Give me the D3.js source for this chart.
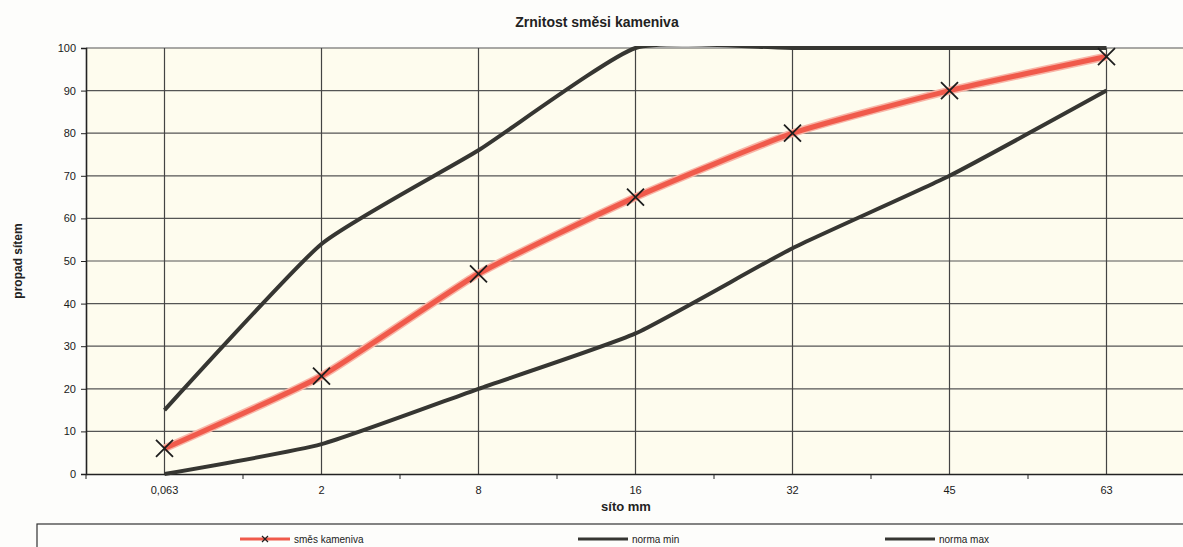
<!DOCTYPE html>
<html>
<head>
<meta charset="utf-8">
<script src="https://cdn.jsdelivr.net/npm/d3@7"></script>
<style>
  body { margin: 0; background: #fdfdfb; }
  svg { display: block; font-family: "Liberation Sans", Arial, sans-serif; }
</style>
</head>
<body>
<svg id="chart" width="1183" height="547"></svg>
<script>
var sieves = ['0,063', '2', '8', '16', '32', '45', '63'];
var mixValues = [6, 23, 47, 65, 80, 90, 98];
var normMin = [0, 7, 20, 33, 53, 70, 90];
var normMax = [15, 54, 76, 100, 100, 100, 100];
var yTicks = [0, 10, 20, 30, 40, 50, 60, 70, 80, 90, 100];

var svg = d3.select('#chart');

var plot = { left: 86, right: 1185, top: 48, bottom: 474 };

var x = d3.scaleBand().domain(sieves).range([plot.left, plot.right]).padding(0);
var y = d3.scaleLinear().domain([0, 100]).range([plot.bottom, plot.top]);
var cx = function(c) { return x(c) + x.bandwidth() / 2; };

svg.append('clipPath').attr('id', 'plotClip')
    .append('rect')
    .attr('x', plot.left).attr('y', plot.top - 2)
    .attr('width', plot.right - plot.left).attr('height', plot.bottom - plot.top + 4);

// plot background
svg.append('rect')
    .attr('x', plot.left).attr('y', plot.top)
    .attr('width', plot.right - plot.left).attr('height', plot.bottom - plot.top)
    .attr('fill', '#fefcee');

// horizontal grid
svg.append('g').selectAll('line')
    .data(yTicks.slice(1))
    .enter().append('line')
    .attr('x1', plot.left).attr('x2', plot.right)
    .attr('y1', function(d) { return y(d); })
    .attr('y2', function(d) { return y(d); })
    .attr('stroke', '#555').attr('stroke-width', 1.2);

// vertical grid at category centres
svg.append('g').selectAll('line')
    .data(sieves)
    .enter().append('line')
    .attr('x1', cx).attr('x2', cx)
    .attr('y1', plot.top).attr('y2', plot.bottom)
    .attr('stroke', '#444').attr('stroke-width', 1.2);

// y axis
var yAxis = svg.append('g')
    .attr('transform', 'translate(' + plot.left + ',0)')
    .call(d3.axisLeft(y).tickValues(yTicks).tickSize(5).tickPadding(5));
yAxis.select('.domain').attr('stroke', '#222').attr('stroke-width', 1.6);
yAxis.selectAll('.tick line').attr('stroke', '#222');
yAxis.selectAll('text').attr('font-size', 11).attr('fill', '#1a1a1a');

// x axis: labels at centres, tick marks at band edges
var xAxis = svg.append('g')
    .attr('transform', 'translate(0,' + plot.bottom + ')')
    .call(d3.axisBottom(x).tickSize(0).tickPadding(12));
xAxis.select('.domain').attr('stroke', '#222').attr('stroke-width', 1.6);
xAxis.selectAll('text').attr('font-size', 11).attr('fill', '#1a1a1a');

svg.append('g').selectAll('line')
    .data(sieves)
    .enter().append('line')
    .attr('x1', function(d) { return x(d); })
    .attr('x2', function(d) { return x(d); })
    .attr('y1', plot.bottom).attr('y2', plot.bottom + 5)
    .attr('stroke', '#222');

// series, lightly smoothed
var line = d3.line()
    .x(function(d, i) { return cx(sieves[i]); })
    .y(function(d) { return y(d); })
    .curve(d3.curveCardinal.tension(0.5));

var series = svg.append('g').attr('clip-path', 'url(#plotClip)');

series.append('path').datum(mixValues)
    .attr('d', line).attr('fill', 'none')
    .attr('stroke', '#f8b4a6').attr('stroke-width', 8);
series.append('path').datum(mixValues)
    .attr('d', line).attr('fill', 'none')
    .attr('stroke', '#f05a4b').attr('stroke-width', 5);

[normMin, normMax].forEach(function(s) {
    series.append('path').datum(s)
        .attr('d', line).attr('fill', 'none')
        .attr('stroke', '#363632').attr('stroke-width', 4)
        .attr('stroke-linejoin', 'round');
});

var cross = function(r) {
    return 'M' + (-r) + ',' + (-r) + 'L' + r + ',' + r + 'M' + (-r) + ',' + r + 'L' + r + ',' + (-r);
};

svg.append('g').selectAll('path')
    .data(mixValues)
    .enter().append('path')
    .attr('transform', function(d, i) { return 'translate(' + cx(sieves[i]) + ',' + y(d) + ')'; })
    .attr('d', cross(8.5))
    .attr('stroke', '#1e1e1e').attr('stroke-width', 1.8);

// titles
svg.append('text')
    .attr('x', 597).attr('y', 27)
    .attr('text-anchor', 'middle')
    .attr('font-size', 14).attr('font-weight', 'bold').attr('fill', '#222')
    .text('Zrnitost směsi kameniva');

svg.append('text')
    .attr('transform', 'translate(22,' + y(50) + ') rotate(-90)')
    .attr('text-anchor', 'middle')
    .attr('font-size', 12).attr('font-weight', 'bold').attr('fill', '#222')
    .text('propad sítem');

// sits just under the "16" label
svg.append('text')
    .attr('x', 626).attr('y', 511)
    .attr('text-anchor', 'middle')
    .attr('font-size', 13).attr('font-weight', 'bold').attr('fill', '#222')
    .text('síto mm');

// legend
svg.append('rect')
    .attr('x', 37).attr('y', 524)
    .attr('width', 1200).attr('height', 40)
    .attr('fill', 'none').attr('stroke', '#333').attr('stroke-width', 1.2);

var legendItems = [
    { name: 'směs kameniva', x: 240, color: '#f05a4b', marker: true },
    { name: 'norma min', x: 578, color: '#363632', marker: false },
    { name: 'norma max', x: 885, color: '#363632', marker: false }
];

var lg = svg.append('g').selectAll('g')
    .data(legendItems)
    .enter().append('g')
    .attr('transform', function(d) { return 'translate(' + d.x + ',539)'; });

lg.append('line')
    .attr('x1', 0).attr('x2', 50)
    .attr('stroke', function(d) { return d.color; })
    .attr('stroke-width', 3);

lg.filter(function(d) { return d.marker; })
    .append('path')
    .attr('transform', 'translate(25,0)')
    .attr('d', cross(3))
    .attr('stroke', '#1e1e1e').attr('stroke-width', 1.2);

lg.append('text')
    .attr('x', 54).attr('y', 3.5)
    .attr('font-size', 10).attr('fill', '#222')
    .text(function(d) { return d.name; });
</script>
</body>
</html>
